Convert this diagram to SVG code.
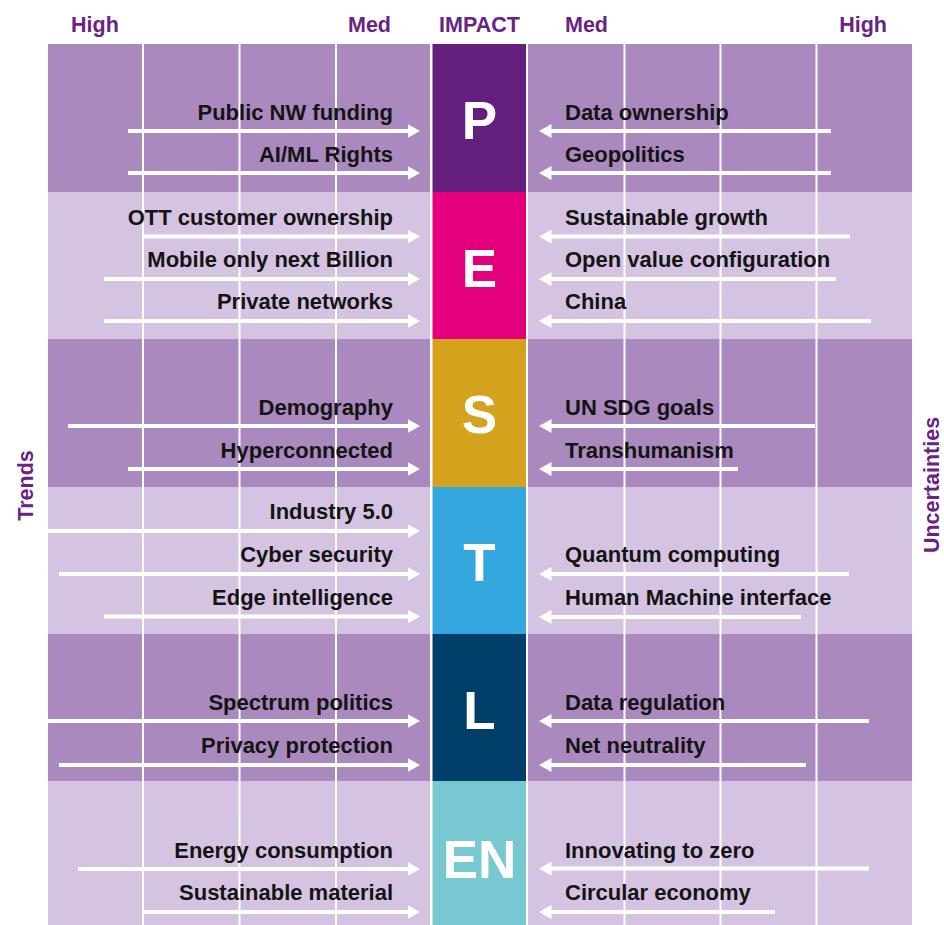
<svg xmlns="http://www.w3.org/2000/svg" width="944" height="925" viewBox="0 0 944 925">
  <style>
    .dark { fill: #aa89be; }
    .light { fill: #d4c4e2; }
    .grid { stroke: #ffffff; stroke-width: 2; }
    .axis { font-family: "Liberation Sans", Arial, sans-serif; font-weight: bold; font-size: 21.5px; fill: #682383; }
    .item { font-family: "Liberation Sans", Arial, sans-serif; font-weight: bold; font-size: 22px; fill: #141414; }
    .left { text-anchor: end; }
    .big { font-family: "Liberation Sans", Arial, sans-serif; font-weight: bold; font-size: 53px; fill: #ffffff; text-anchor: middle; }
    .arrow { stroke: #ffffff; stroke-width: 4; fill: none; marker-end: url(#head); }
  </style>
  <defs>
    <marker id="head" markerUnits="userSpaceOnUse" markerWidth="13" markerHeight="14" refX="4" refY="7" orient="auto">
      <path d="M0,0 L12.5,7 L0,14 Z" fill="#ffffff"/>
    </marker>
  </defs>
  <rect width="944" height="925" fill="#ffffff"/>

  <!-- axis headings -->
  <g id="headings">
    <text class="axis" x="71" y="32">High</text>
    <text class="axis" x="391" y="32" text-anchor="end">Med</text>
    <text class="axis" x="479.5" y="32" text-anchor="middle" font-size="23.5">IMPACT</text>
    <text class="axis" x="565" y="32">Med</text>
    <text class="axis" x="887" y="32" text-anchor="end">High</text>
    <text class="axis" transform="translate(33,485.5) rotate(-90)" text-anchor="middle" font-size="22">Trends</text>
    <text class="axis" transform="translate(939,485) rotate(-90)" text-anchor="middle" font-size="22">Uncertainties</text>
  </g>

  <!-- row bands, left and right panels -->
  <g id="bands">
    <rect class="dark" x="48" y="44" width="382" height="148"/>
    <rect class="light" x="48" y="192" width="382" height="147"/>
    <rect class="dark" x="48" y="339" width="382" height="148"/>
    <rect class="light" x="48" y="487" width="382" height="147"/>
    <rect class="dark" x="48" y="634" width="382" height="147"/>
    <rect class="light" x="48" y="781" width="382" height="144"/>
    <rect class="dark" x="528" y="44" width="384" height="148"/>
    <rect class="light" x="528" y="192" width="384" height="147"/>
    <rect class="dark" x="528" y="339" width="384" height="148"/>
    <rect class="light" x="528" y="487" width="384" height="147"/>
    <rect class="dark" x="528" y="634" width="384" height="147"/>
    <rect class="light" x="528" y="781" width="384" height="144"/>
  </g>

  <!-- scale grid -->
  <g id="grid" class="grid">
    <line x1="143" y1="44" x2="143" y2="925"/>
    <line x1="239.5" y1="44" x2="239.5" y2="925"/>
    <line x1="336" y1="44" x2="336" y2="925"/>
    <line x1="624.5" y1="44" x2="624.5" y2="925"/>
    <line x1="720.5" y1="44" x2="720.5" y2="925"/>
    <line x1="816.5" y1="44" x2="816.5" y2="925"/>
  </g>

  <!-- PESTLE impact column -->
  <g id="node-P">
    <rect x="432.5" y="44" width="93.5" height="148" fill="#641e7b"/>
    <text class="big" x="479.5" y="139">P</text>
  </g>
  <g id="node-E">
    <rect x="432.5" y="192" width="93.5" height="147" fill="#e4007c"/>
    <text class="big" x="479.5" y="286.5">E</text>
  </g>
  <g id="node-S">
    <rect x="432.5" y="339" width="93.5" height="148" fill="#d4a21c"/>
    <text class="big" x="479.5" y="432.5">S</text>
  </g>
  <g id="node-T">
    <rect x="432.5" y="487" width="93.5" height="147" fill="#34a7df"/>
    <text class="big" x="479.5" y="581">T</text>
  </g>
  <g id="node-L">
    <rect x="432.5" y="634" width="93.5" height="147" fill="#003f69"/>
    <text class="big" x="479.5" y="729">L</text>
  </g>
  <g id="node-EN">
    <rect x="432.5" y="781" width="93.5" height="144" fill="#78c8d2"/>
    <text class="big" x="479.5" y="878">EN</text>
  </g>

  <!-- trend and uncertainty arrows -->
  <g id="connectors" class="arrow">
    <line x1="128" y1="131" x2="411.5" y2="131"/>
    <line x1="128" y1="173" x2="411.5" y2="173"/>
    <line x1="143" y1="236.5" x2="411.5" y2="236.5"/>
    <line x1="104" y1="279" x2="411.5" y2="279"/>
    <line x1="104" y1="321" x2="411.5" y2="321"/>
    <line x1="68" y1="426" x2="411.5" y2="426"/>
    <line x1="128" y1="469" x2="411.5" y2="469"/>
    <line x1="48" y1="531" x2="411.5" y2="531"/>
    <line x1="59" y1="574" x2="411.5" y2="574"/>
    <line x1="104" y1="616.5" x2="411.5" y2="616.5"/>
    <line x1="48" y1="721" x2="411.5" y2="721"/>
    <line x1="59" y1="765" x2="411.5" y2="765"/>
    <line x1="78" y1="869" x2="411.5" y2="869"/>
    <line x1="143" y1="912" x2="411.5" y2="912"/>

    <line x1="831" y1="131" x2="547.5" y2="131"/>
    <line x1="831" y1="173" x2="547.5" y2="173"/>
    <line x1="850" y1="236.5" x2="547.5" y2="236.5"/>
    <line x1="836" y1="279" x2="547.5" y2="279"/>
    <line x1="871" y1="321" x2="547.5" y2="321"/>
    <line x1="815" y1="426" x2="547.5" y2="426"/>
    <line x1="738" y1="469" x2="547.5" y2="469"/>
    <line x1="849" y1="574" x2="547.5" y2="574"/>
    <line x1="801" y1="617" x2="547.5" y2="617"/>
    <line x1="869" y1="721" x2="547.5" y2="721"/>
    <line x1="806" y1="765" x2="547.5" y2="765"/>
    <line x1="869" y1="868.5" x2="547.5" y2="868.5"/>
    <line x1="775" y1="912" x2="547.5" y2="912"/>
  </g>

  <!-- trend labels -->
  <g id="trends" class="item left">
    <text x="393" y="120">Public NW funding</text>
    <text x="393" y="162">AI/ML Rights</text>
    <text x="393" y="224.5">OTT customer ownership</text>
    <text x="393" y="267">Mobile only next Billion</text>
    <text x="393" y="309">Private networks</text>
    <text x="393" y="415">Demography</text>
    <text x="393" y="458">Hyperconnected</text>
    <text x="393" y="519">Industry 5.0</text>
    <text x="393" y="562">Cyber security</text>
    <text x="393" y="605">Edge intelligence</text>
    <text x="393" y="710">Spectrum politics</text>
    <text x="393" y="753">Privacy protection</text>
    <text x="393" y="858">Energy consumption</text>
    <text x="393" y="900">Sustainable material</text>
  </g>

  <!-- uncertainty labels -->
  <g id="uncertainties" class="item">
    <text x="565" y="120">Data ownership</text>
    <text x="565" y="162">Geopolitics</text>
    <text x="565" y="224.5">Sustainable growth</text>
    <text x="565" y="267">Open value configuration</text>
    <text x="565" y="309">China</text>
    <text x="565" y="415">UN SDG goals</text>
    <text x="565" y="458">Transhumanism</text>
    <text x="565" y="562">Quantum computing</text>
    <text x="565" y="605">Human Machine interface</text>
    <text x="565" y="710">Data regulation</text>
    <text x="565" y="753">Net neutrality</text>
    <text x="565" y="858">Innovating to zero</text>
    <text x="565" y="900">Circular economy</text>
  </g>
</svg>
